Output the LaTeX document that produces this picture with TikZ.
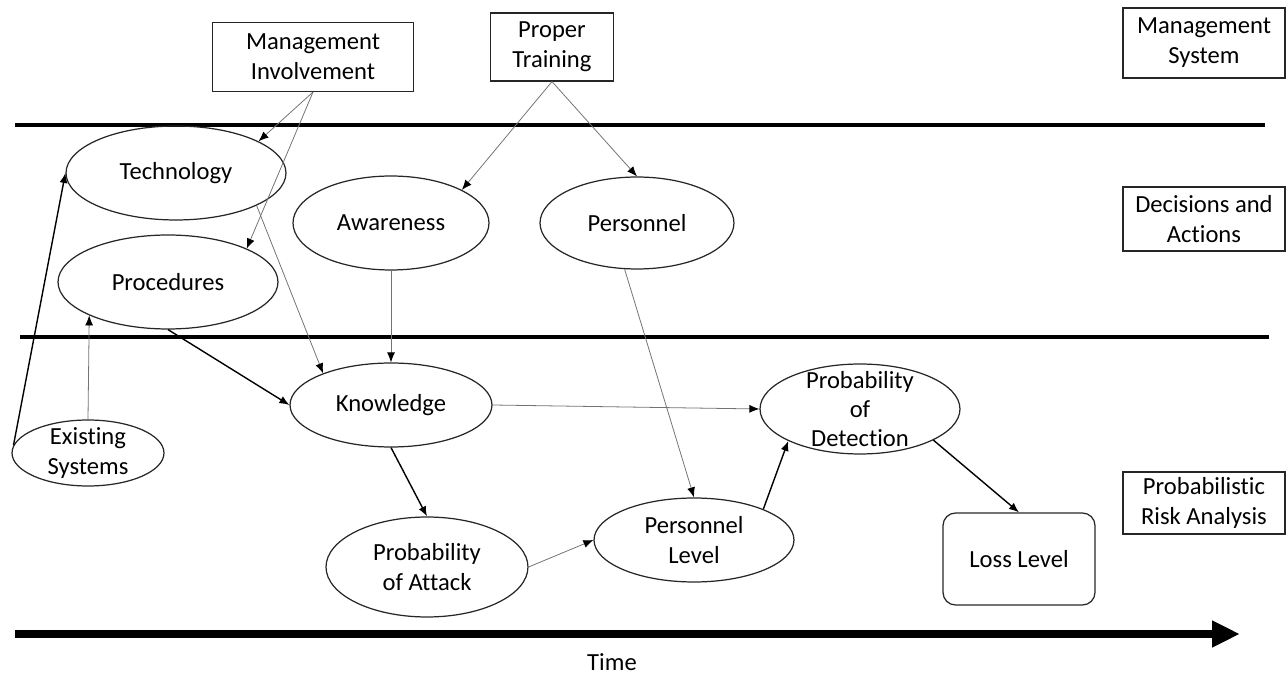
\documentclass[tikz,border=0pt]{standalone}
\usepackage{fontspec}
\setmainfont[Ligatures=NoCommon]{Carlito}
\usetikzlibrary{shapes.geometric,arrows.meta}

\begin{document}
\begin{tikzpicture}[
    x=0.02cm, y=-0.02cm,
    font=\fontsize{14}{17}\selectfont,
    box/.style={
        rectangle,
        draw=black!85,
        line width=0.7pt,
        inner sep=0pt,
        align=center
    },
    oval/.style={
        ellipse,
        draw=black!85,
        line width=0.7pt,
        inner sep=0pt,
        align=center
    },
    thin/.style={-{Latex[length=2mm,width=1.6mm,color=black]}, draw=black!55, line width=0.45pt},
    arrow/.style={-{Latex[length=2mm,width=1.6mm]}, line width=0.8pt},
    layer/.style={line width=2.4pt}
]
\useasboundingbox (0,0) rectangle (1286,675);

% layers
\coordinate (topL) at (15,125);
\coordinate (topR) at (1265,125);
\coordinate (midL) at (20,337);
\coordinate (midR) at (1269,337);
\coordinate (timeL) at (15,634);
\coordinate (timeR) at (1240,634);
\draw[layer] (topL) -- (topR);
\draw[layer] (midL) -- (midR);
\draw[line width=5pt, -{Triangle[length=0.56cm,width=0.5cm]}] (timeL) -- (timeR);
\node (time) at (612,662) {Time};

% side labels
\node[box, minimum width=3.24cm, minimum height=1.40cm] (mgmtsys) at (1204,43) {Management\\System};
\node[box, minimum width=3.24cm, minimum height=1.28cm] (decisions) at (1204,219) {Decisions and\\Actions};
\node[box, minimum width=3.24cm, minimum height=1.24cm] (pra) at (1204,503) {Probabilistic\\Risk Analysis};

% management system
\node[box, minimum width=4.02cm, minimum height=1.38cm] (involve) at (313,57) {Management\\Involvement};
\node[box, minimum width=2.46cm, minimum height=1.36cm] (training) at (552,47) {Proper\\Training};

% decisions and actions
\node[oval, minimum width=4.4cm, minimum height=1.88cm] (tech) at (176,173) {Technology};
\node[oval, minimum width=4.4cm, minimum height=1.88cm] (proc) at (168,282) {Procedures};
\node[oval, minimum width=3.92cm, minimum height=1.88cm] (aware) at (391,223) {Awareness};
\node[oval, minimum width=3.88cm, minimum height=1.84cm] (pers) at (637,223) {Personnel};

% risk analysis
\node[oval, minimum width=4.04cm, minimum height=1.68cm] (know) at (391,405) {Knowledge};
\node[oval, minimum width=3.04cm, minimum height=1.32cm,
      label={[align=center]center:Existing\\Systems}] (exist) at (88,453) {};
\node[oval, minimum width=4.04cm, minimum height=2.0cm] (attack) at (427,567) {Probability\\of Attack};
\node[oval, minimum width=4.0cm, minimum height=1.68cm] (plevel) at (694,540) {Personnel\\Level};
\node[oval, minimum width=4.0cm, minimum height=1.8cm,
      label={[align=center, font=\fontsize{14}{16.5}\selectfont]center:Probability\\of\\Detection}] (detect) at (860,409) {};
\node[box, rounded corners=0.25cm, minimum width=3.04cm, minimum height=1.84cm] (loss) at (1019,559) {Loss Level};

% connectors
\draw[thin] (involve.south) -- (tech.21);
\draw[thin] (involve.south) -- (proc.23);
\draw[thin] (training.south) -- (aware.25);
\draw[thin] (training.south) -- (pers.north);
\draw[thin] (tech.-22) -- (know.155);
\draw[thin] (aware.south) -- (know.north);
\draw[arrow] (proc.south) -- (know.west);
\draw[arrow] (exist.174) -- (tech.west);
\draw[thin] (exist.north) -- (proc.203);
\draw[arrow] (know.south) -- (attack.north);
\draw[thin] (know.east) -- (detect.west);
\draw[thin] (pers.-105) -- (plevel.north);
\draw[thin] (attack.east) -- (plevel.west);
\draw[arrow] (plevel.24) -- (detect.204);
\draw[arrow] (detect.-23) -- (loss.north);

\end{tikzpicture}
\end{document}
